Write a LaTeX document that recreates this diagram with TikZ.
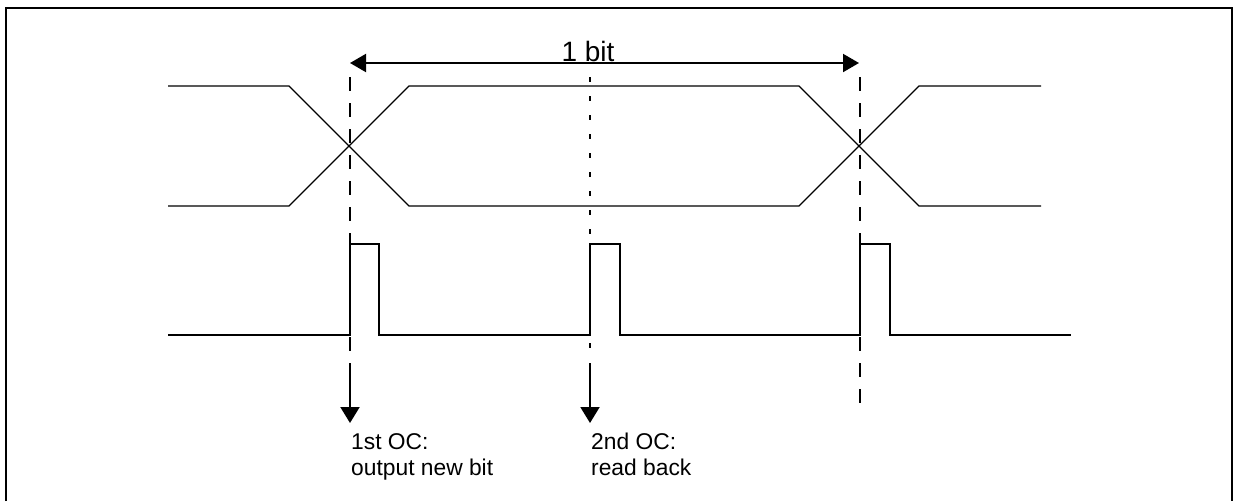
\documentclass[tikz,border=0pt]{standalone}
\usepackage{fontspec}
\setmainfont{Liberation Sans}
\usepackage{xcolor}
\usepackage{tikz}
\usetikzlibrary{arrows.meta}
\definecolor{ink}{HTML}{000000}
\tikzset{
  frame/.style={draw=ink, line width=2pt},
  eye/.style={draw=ink, line width=1.3pt, line join=miter},
  pulse/.style={draw=ink, line width=2pt, line join=miter},
  edgeline/.style={draw=ink, line width=2pt, dash pattern=on 14pt off 12pt},
  midline/.style={draw=ink, line width=2pt, dash pattern=on 5pt off 14pt},
  oc/.style={draw=ink, line width=2pt, -{Triangle[width=19pt,length=16pt]}},
  span/.style={draw=ink, line width=2pt, {Triangle[width=18pt,length=16pt]}-{Triangle[width=18pt,length=16pt]}},
  lab/.style={text=ink, font=\fontsize{22.8}{26}\selectfont, align=left, inner sep=0pt},
  labbig/.style={text=ink, font=\fontsize{28}{32}\selectfont, inner sep=0pt},
}
\begin{document}
\begin{tikzpicture}[x=1pt,y=-1pt]
  \useasboundingbox (0,0) rectangle (1233,501);
  % frame, open at the bottom
  \draw[frame] (5.5,501) -- (5.5,7.5) -- (1232,7.5) -- (1232,501);
  % data line
  \draw[eye] (168,86) -- (289,86) -- (409,206) -- (799,206) -- (919,86) -- (1041,86);
  \draw[eye] (168,206) -- (289,206) -- (409,86) -- (799,86) -- (919,206) -- (1041,206);
  % output compare pulses
  \draw[pulse] (168,335) -- (350,335) -- (350,244) -- (379,244) -- (379,335)
    -- (590,335) -- (590,244) -- (620,244) -- (620,335)
    -- (860,335) -- (860,244) -- (890,244) -- (890,335) -- (1071,335);
  % markers
  \coordinate (oc1top) at (350,77);
  \coordinate (oc1end) at (350,360);
  \coordinate (oc1from) at (350,363);
  \coordinate (oc1to) at (350,423);
  \coordinate (oc2top) at (590,77);
  \coordinate (oc2end) at (590,356);
  \coordinate (oc2from) at (590,363);
  \coordinate (oc2to) at (590,423);
  \coordinate (nexttop) at (860,77);
  \coordinate (nextend) at (860,408);
  \draw[edgeline] (oc1top) -- (oc1end);
  \draw[midline] (oc2top) -- (oc2end);
  \draw[edgeline] (nexttop) -- (nextend);
  \draw[oc] (oc1from) -- (oc1to);
  \draw[oc] (oc2from) -- (oc2to);
  % bit period
  \coordinate (bitl) at (350,63);
  \coordinate (bitr) at (859,63);
  \draw[span] (bitl) -- (bitr);
  \node[labbig, anchor=base] (bit) at (588,61) {1 bit};
  \node[lab, anchor=north west] (oc1lab) at (351,433) {1st OC:\\output new bit};
  \node[lab, anchor=north west] (oc2lab) at (591,433) {2nd OC:\\read back};
\end{tikzpicture}
\end{document}
